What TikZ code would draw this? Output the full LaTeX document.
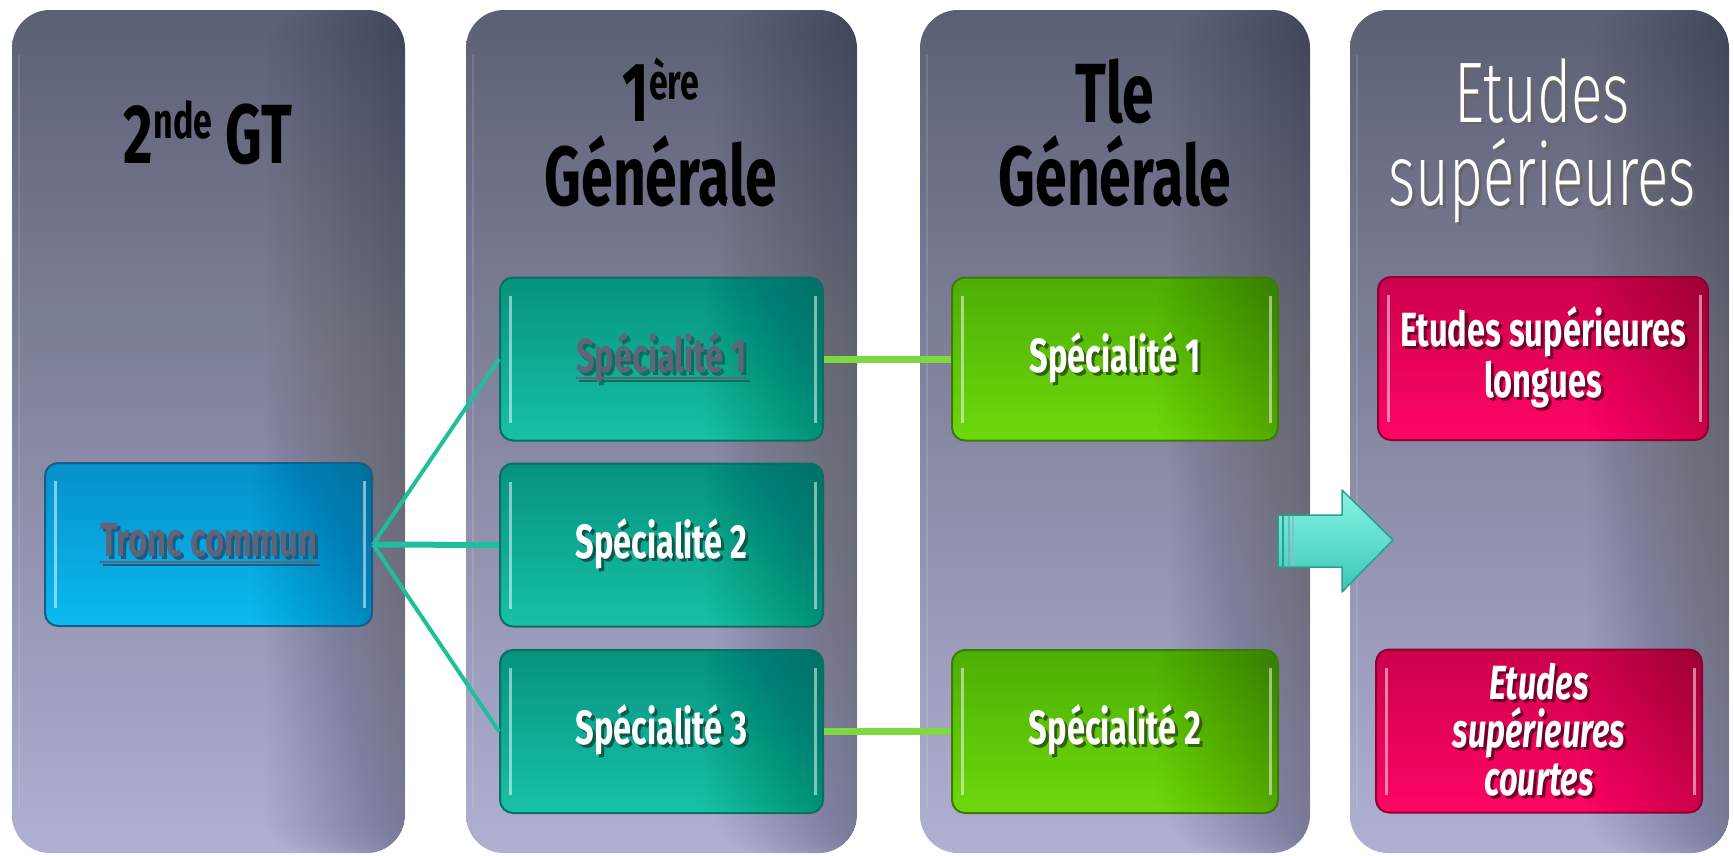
\documentclass[tikz,border=0pt]{standalone}
\usepackage{fontspec}
\setmainfont{Fira Sans}
\newfontfamily\agb[FakeStretch=0.68]{Fira Sans}
\newfontfamily\agl[FakeStretch=0.68]{Fira Sans Light}
\definecolor{colT}{HTML}{5C6074}
\definecolor{colB}{HTML}{B0B0D2}
\definecolor{tealD}{HTML}{0B6E60}
\definecolor{tealT}{HTML}{06927F}
\definecolor{tealB}{HTML}{17C2A6}
\definecolor{greenD}{HTML}{3D7A0A}
\definecolor{greenT}{HTML}{4DAE05}
\definecolor{greenB}{HTML}{6DD90C}
\definecolor{redD}{HTML}{8C0032}
\definecolor{redT}{HTML}{CC004C}
\definecolor{redB}{HTML}{FF0664}
\definecolor{blueD}{HTML}{1B5C86}
\definecolor{blueT}{HTML}{0690CA}
\definecolor{blueB}{HTML}{0ABAF0}
\definecolor{linkT}{HTML}{1FBE9E}
\definecolor{linkG}{HTML}{80D840}
\definecolor{greyTxt}{HTML}{5E6579}
\definecolor{arrT}{HTML}{86F4E6}
\definecolor{arrB}{HTML}{3CC6B6}
\definecolor{arrD}{HTML}{2A9E90}
\newcommand\shw[2]{\leavevmode\rlap{\hspace{3pt}\raisebox{-3pt}{\color{#1}#2}}#2}
\newcommand\ulsh[2]{\setbox0\hbox{#2}\leavevmode\rlap{\hspace{3pt}\raisebox{-3pt}{\color{#1}\rlap{\rule[-7pt]{\wd0}{2.5pt}}#2}}\rlap{\rule[-7pt]{\wd0}{2.5pt}}\box0}
\begin{document}
\begin{tikzpicture}[x=1pt,y=-1pt,
  colbox/.style={rounded corners=38pt, inner sep=0pt, minimum height=843pt,
    top color=colT, bottom color=colB, draw=none,
    path picture={\foreach \i in {1,...,28}{\fill[black,opacity=0.006]
      ([xshift=\i*5pt-145pt]path picture bounding box.south east) rectangle (path picture bounding box.north east);}
      \draw[white,opacity=.12,line width=2pt]
        ([xshift=7pt,yshift=-45pt]path picture bounding box.north west) -- ([xshift=7pt,yshift=45pt]path picture bounding box.south west);}},
  btn/.style={rounded corners=13pt, line width=2pt, inner sep=0pt, minimum height=163pt,
    align=center, text=white, font=\agb\bfseries\fontsize{48}{49}\selectfont,
    path picture={
      \foreach \i in {1,...,24}{\fill[black,opacity=0.006]
        ([xshift=\i*5pt-125pt]path picture bounding box.south east) rectangle (path picture bounding box.north east);}
      \draw[white,opacity=.5,line width=3pt]
        ([xshift=10pt,yshift=-18pt]path picture bounding box.north west) -- ([xshift=10pt,yshift=18pt]path picture bounding box.south west);
      \draw[white,opacity=.5,line width=3pt]
        ([xshift=-8pt,yshift=-18pt]path picture bounding box.north east) -- ([xshift=-8pt,yshift=18pt]path picture bounding box.south east);}},
  tealbox/.style={btn, draw=tealD, top color=tealT, bottom color=tealB},
  greenbox/.style={btn, draw=greenD, top color=greenT, bottom color=greenB},
  redbox/.style={btn, draw=redD, top color=redT, bottom color=redB},
  bluebox/.style={btn, draw=blueD, top color=blueT, bottom color=blueB},
  ttl/.style={inner sep=0pt, text=black, font=\agb\bfseries\fontsize{84}{84}\selectfont},
  ttlw/.style={inner sep=0pt, text=white, font=\agl\fontsize{86}{86}\selectfont},
  linkt/.style={draw=linkT, line width=4pt},
  linkg/.style={draw=linkG, line width=7pt}]
\fill[white] (0,0) rectangle (1733,855);
\useasboundingbox (0,0) rectangle (1733,855);
% columns
\node[colbox, minimum width=393pt] (c1) at (208.5,431.5) {};
\node[colbox, minimum width=391pt] (c2) at (661.5,431.5) {};
\node[colbox, minimum width=390pt] (c3) at (1115,431.5) {};
\node[colbox, minimum width=379pt] (c4) at (1539.5,431.5) {};
% titles
\node[ttl, anchor=base] (t1) at (208,163) {2\raisebox{25pt}{\fontsize{50}{50}\selectfont nde} GT};
\node[ttl, anchor=base] (t2a) at (661,121) {1\raisebox{22pt}{\fontsize{50}{50}\selectfont ère}};
\node[ttl, anchor=base] (t2b) at (661,205) {Générale};
\node[ttl, anchor=base] (t3a) at (1115,122) {Tle};
\node[ttl, anchor=base] (t3b) at (1115,205) {Générale};
\node[ttlw, anchor=base] (t4a) at (1542,122) {\shw{black!60}{Etudes}};
\node[ttlw, anchor=base] (t4b) at (1542,205) {\shw{black!60}{supérieures}};
% boxes
\node[bluebox, minimum width=327pt, text=greyTxt] (tc) at (208.5,544.5) {\ulsh{blueD}{Tronc commun}};
\node[tealbox, minimum width=323pt, text=greyTxt] (a1) at (661.5,359) {\ulsh{tealD}{Spécialité 1}};
\node[tealbox, minimum width=323pt] (a2) at (661.5,545) {\shw{tealD!80!black}{Spécialité 2}};
\node[tealbox, minimum width=323pt] (a3) at (661.5,731.5) {\shw{tealD!80!black}{Spécialité 3}};
\node[greenbox, minimum width=326pt] (b1) at (1115,359) {\shw{greenD!80!black}{Spécialité 1}};
\node[greenbox, minimum width=326pt] (b2) at (1115,731.5) {\shw{greenD!80!black}{Spécialité 2}};
\node[redbox, minimum width=330pt] (r1) at (1543,358.5) {\shw{redD!80!black}{Etudes supérieures}\\\shw{redD!80!black}{longues}};
\node[redbox, minimum width=326pt, font=\agb\bfseries\itshape\fontsize{48}{48}\selectfont] (r2) at (1539,731) {\shw{redD!80!black}{Etudes}\\\shw{redD!80!black}{supérieures}\\\shw{redD!80!black}{courtes}};
% connectors
\draw[linkt] (tc.east) -- (a1.west);
\draw[linkt, line width=6pt] (tc.east) -- (a2.west);
\draw[linkt] (tc.east) -- (a3.west);
\draw[linkg] (a1.east) -- (b1.west);
\draw[linkg] (a3.east) -- (b2.west);
% block arrow
\path[draw=arrD, line width=1.5pt, top color=arrT, bottom color=arrB, line join=round]
  (1278,515) -- (1342,515) -- (1342,490) -- (1393,540) -- (1342,592) -- (1342,567) -- (1278,567) -- cycle;
\draw[arrD, line width=2pt] (1283,516) -- (1283,566);
\draw[arrD!70, line width=1.5pt] (1289,516) -- (1289,566);
\draw[arrD!60, line width=1.5pt] (1293,516) -- (1293,566);
\end{tikzpicture}
\end{document}
